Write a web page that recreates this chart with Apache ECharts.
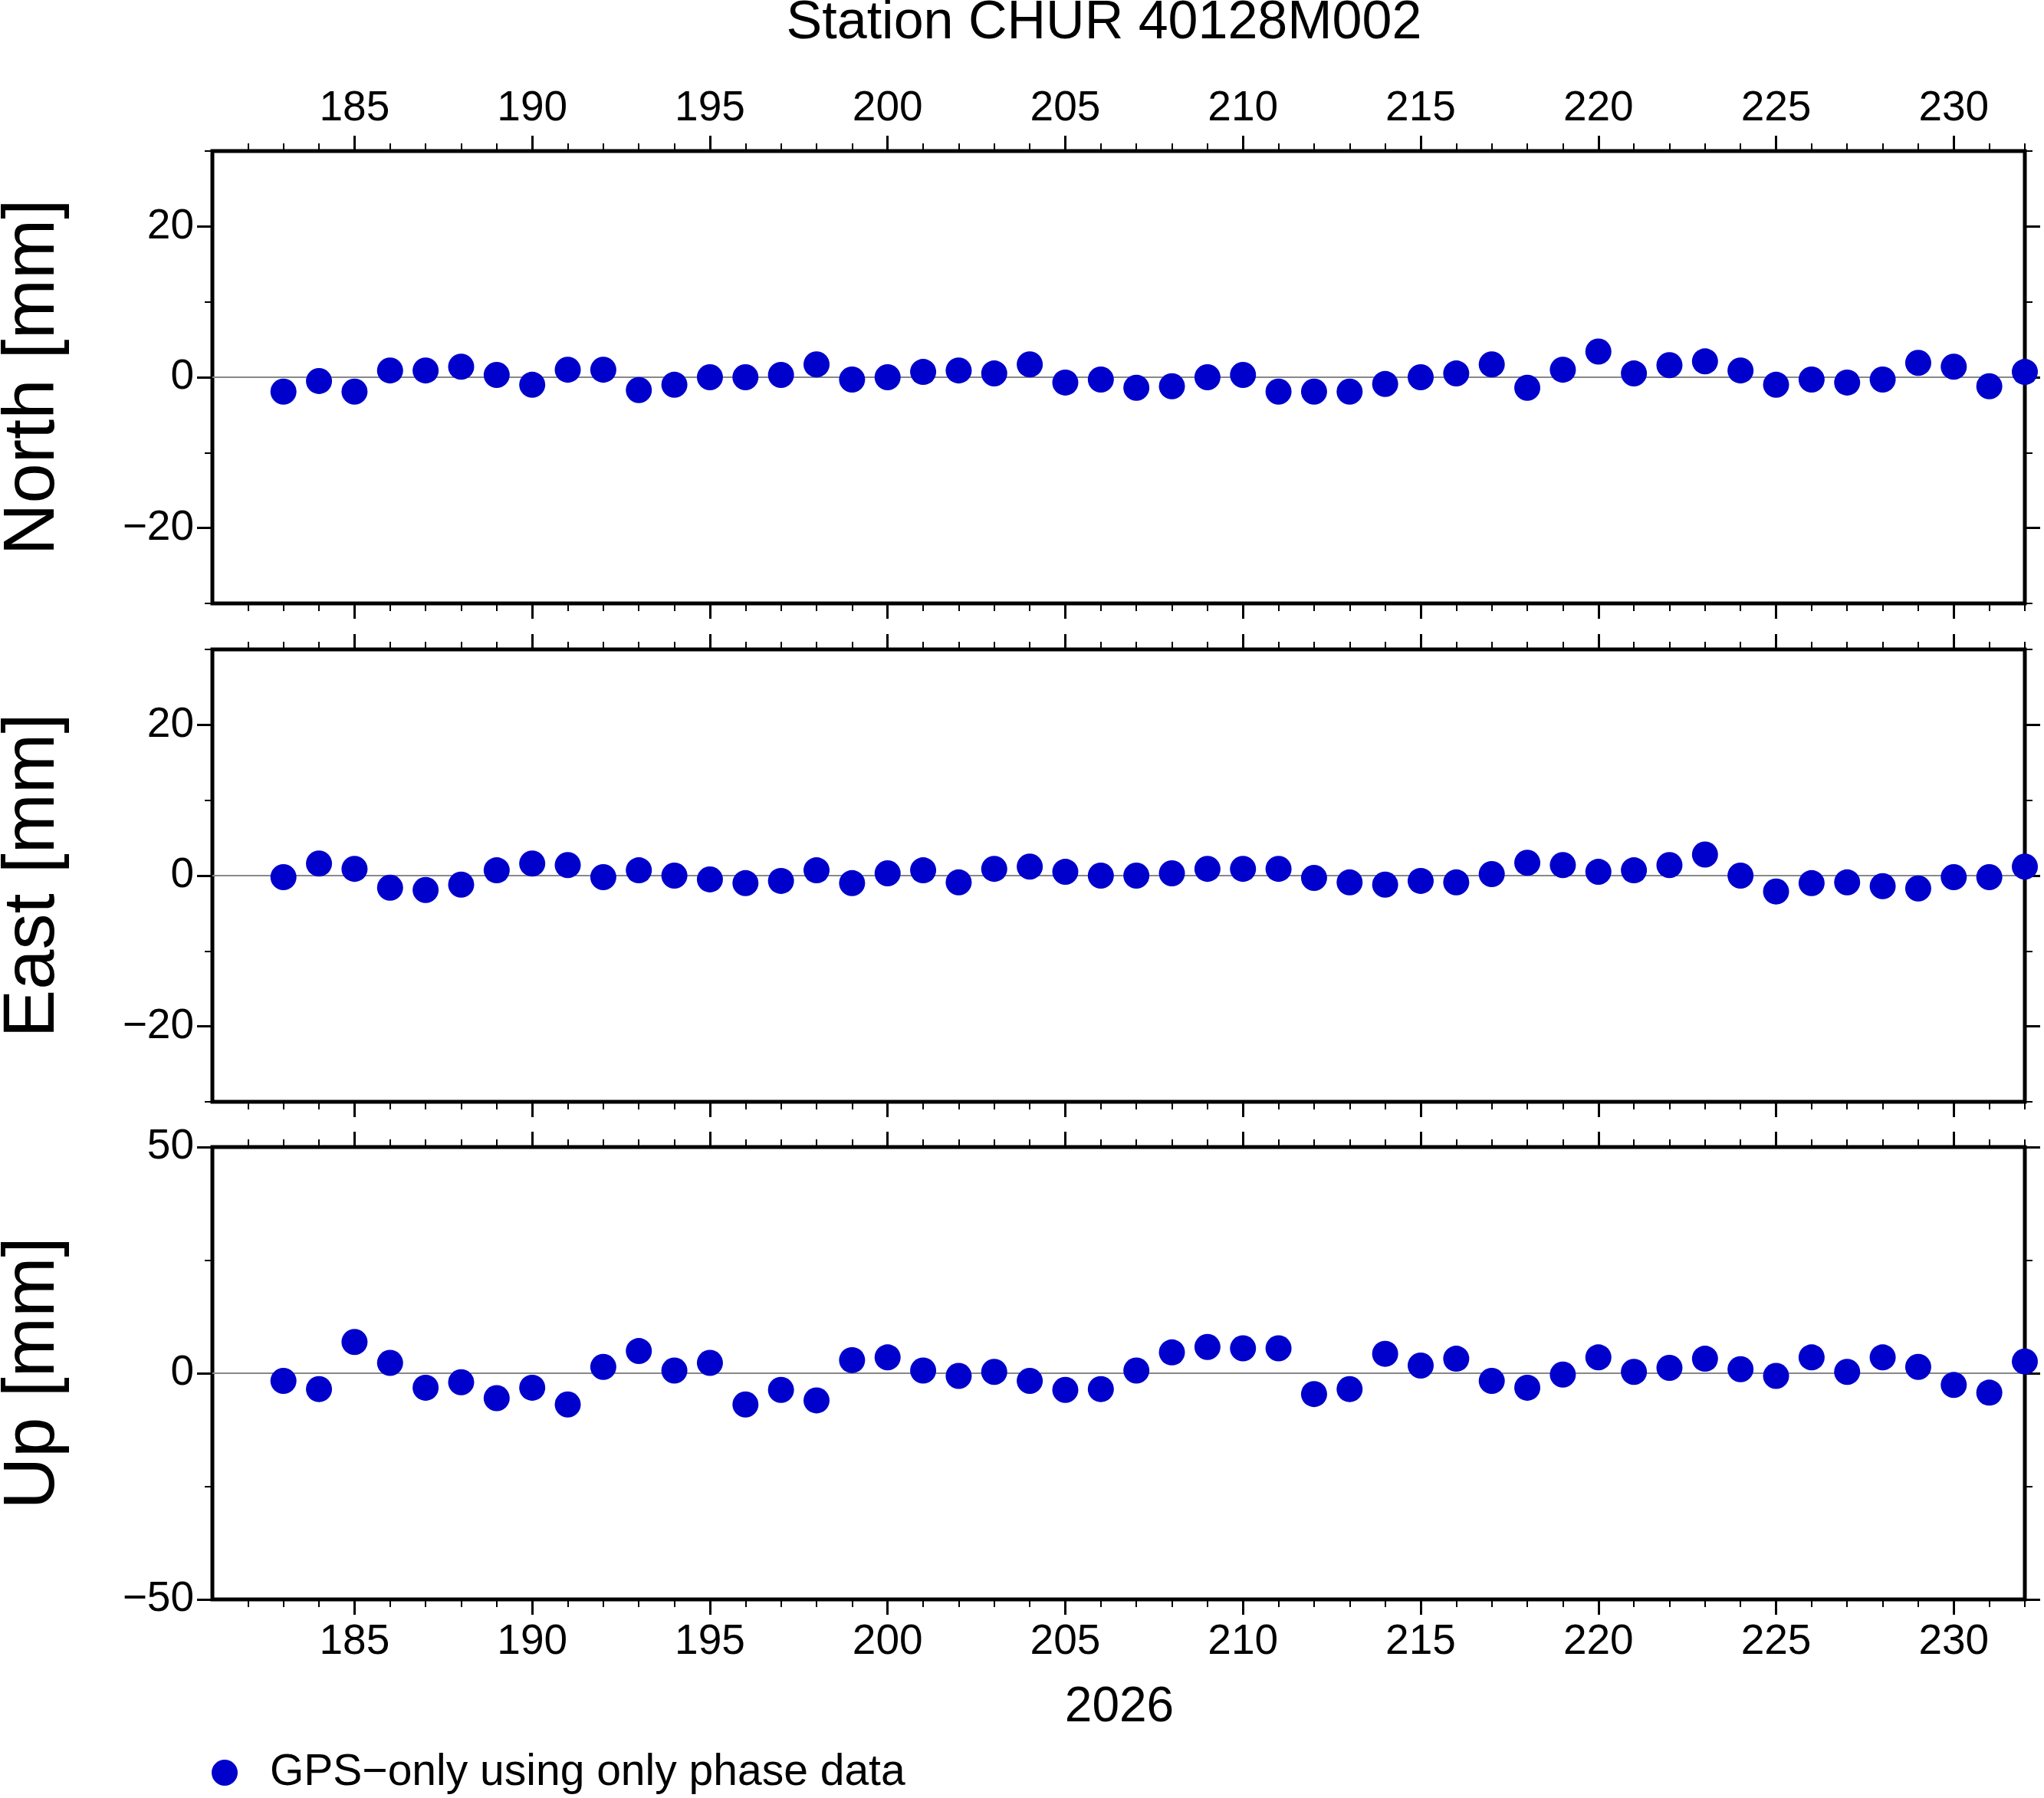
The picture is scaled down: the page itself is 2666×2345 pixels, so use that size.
<!DOCTYPE html>
<html>
<head>
<meta charset="utf-8">
<script src="https://cdn.jsdelivr.net/npm/echarts@6/dist/echarts.min.js"></script>
<style>html,body{margin:0;padding:0;background:#fff}#chart{width:2666px;height:2345px}</style>
</head>
<body>
<div id="chart"></div>
<script>
// day of year 183..232
var days = [];
for (var d = 183; d <= 232; d++) days.push(d);
var north = [-1.9,-0.5,-1.9,0.9,0.9,1.4,0.3,-1,1,1,-1.7,-1,0,0,0.3,1.7,-0.3,0,0.7,0.9,0.5,1.7,-0.7,-0.3,-1.4,-1.2,0,0.3,-1.9,-1.9,-1.9,-0.9,0,0.5,1.7,-1.4,1,3.4,0.5,1.6,2.1,0.9,-1,-0.3,-0.7,-0.3,1.9,1.4,-1.2,0.7];
var east = [-0.2,1.6,0.9,-1.6,-1.9,-1.2,0.7,1.6,1.4,-0.2,0.7,0,-0.5,-1,-0.7,0.7,-1,0.3,0.7,-0.9,0.9,1.2,0.5,0,0,0.3,0.9,0.9,0.9,-0.3,-0.9,-1.2,-0.7,-0.9,0.2,1.7,1.4,0.5,0.7,1.4,2.8,0,-2.1,-1,-0.9,-1.4,-1.7,-0.2,-0.2,1.2];
var up = [-1.7,-3.5,6.9,2.3,-3.2,-2,-5.5,-3.2,-6.9,1.4,4.9,0.6,2.3,-6.9,-3.7,-6,2.9,3.5,0.6,-0.6,0.3,-1.7,-3.7,-3.5,0.6,4.6,5.8,5.5,5.5,-4.6,-3.5,4.3,1.7,3.2,-1.7,-3.2,-0.3,3.5,0.3,1.2,3.2,0.9,-0.6,3.5,0.3,3.5,1.4,-2.6,-4.3,2.6];
var xMajor = [185,190,195,200,205,210,215,220,225,230];
var panels = [
  {name: 'North [mm]', data: north, min: -30, max: 30, major: [-20,0,20], minor: [-30,-20,-10,0,10,20,30]},
  {name: 'East [mm]', data: east, min: -30, max: 30, major: [-20,0,20], minor: [-30,-20,-10,0,10,20,30]},
  {name: 'Up [mm]', data: up, min: -50, max: 50, major: [-50,0,50], minor: [-50,-25,0,25,50]}
];
var tops = [197, 847, 1496];
var font = 'Liberation Sans, Arial, sans-serif';
var lbl = {fontSize: 55, color: '#000', fontFamily: font};

var grid = [], xAxis = [], yAxis = [], series = [], graphic = [];
var xDays = [];
for (var k = 182; k <= 232; k++) xDays.push(k);

panels.forEach(function (p, i) {
  grid.push({left: 277, right: 25, top: tops[i], height: 590, show: true,
    borderColor: '#000', borderWidth: 5, backgroundColor: 'transparent'});
  ['top', 'bottom'].forEach(function (pos) {
    var showLbl = (pos === 'top' && i === 0) || (pos === 'bottom' && i === 2);
    xAxis.push({type: 'value', gridIndex: i, position: pos, min: 181, max: 232,
      axisLine: {show: true, onZero: false, lineStyle: {color: '#000', width: 3}},
      axisTick: {show: true, length: 20, customValues: xMajor, lineStyle: {color: '#000', width: 3}},
      axisLabel: Object.assign({show: showLbl, margin: 28, customValues: xMajor}, lbl),
      splitLine: {show: false}});
    xAxis.push({type: 'value', gridIndex: i, position: pos, min: 181, max: 232,
      axisLine: {show: false, onZero: false},
      axisTick: {show: true, length: 10, customValues: xDays, lineStyle: {color: '#000', width: 2}},
      axisLabel: {show: false}, splitLine: {show: false}});
  });
  ['left', 'right'].forEach(function (pos) {
    yAxis.push({type: 'value', gridIndex: i, position: pos, min: p.min, max: p.max,
      axisLine: {show: true, onZero: false, lineStyle: {color: '#000', width: 3}},
      axisTick: {show: true, length: 20, customValues: p.major, lineStyle: {color: '#000', width: 3}},
      axisLabel: Object.assign({show: pos === 'left', margin: 24, customValues: p.major,
        formatter: function (v) { return v < 0 ? '\u2212' + (-v) : '' + v; }}, lbl),
      splitLine: {show: false}});
    yAxis.push({type: 'value', gridIndex: i, position: pos, min: p.min, max: p.max,
      axisLine: {show: false, onZero: false},
      axisTick: {show: true, length: 10, customValues: p.minor, lineStyle: {color: '#000', width: 2}},
      axisLabel: {show: false}, splitLine: {show: false}});
  });
  series.push({type: 'scatter', name: 'GPS\u2212only using only phase data',
    xAxisIndex: i * 4 + 2, yAxisIndex: i * 4,
    symbolSize: 34, itemStyle: {color: '#0000cd', opacity: 1},
    data: days.map(function (d, j) { return [d, p.data[j]]; }),
    markLine: {silent: true, symbol: 'none', label: {show: false},
      lineStyle: {color: '#888', width: 2, type: 'solid'}, data: [{yAxis: 0}]},
    z: 5, clip: false});
  graphic.push({type: 'text', x: 44, y: tops[i] + 295, rotation: Math.PI / 2,
    style: {text: p.name, fontSize: 94, fontFamily: font, fill: '#000', align: 'center', verticalAlign: 'middle'}});
});

graphic.push({type: 'text', x: 1440, y: 31, style: {text: 'Station CHUR 40128M002', fontSize: 70, fontFamily: font, fill: '#000', align: 'center', verticalAlign: 'middle'}});
graphic.push({type: 'text', x: 1460, y: 2227, style: {text: '2026', fontSize: 64, fontFamily: font, fill: '#000', align: 'center', verticalAlign: 'middle'}});
graphic.push({type: 'circle', shape: {cx: 293, cy: 2312, r: 17}, style: {fill: '#0000cd'}});
graphic.push({type: 'text', x: 352, y: 2312, style: {text: 'GPS\u2212only using only phase data', fontSize: 57, fontFamily: font, fill: '#000', align: 'left', verticalAlign: 'middle'}});

var chart = echarts.init(document.getElementById('chart'));
chart.setOption({animation: false, backgroundColor: '#fff', grid: grid, xAxis: xAxis, yAxis: yAxis, series: series, graphic: graphic});
</script>
</body>
</html>
